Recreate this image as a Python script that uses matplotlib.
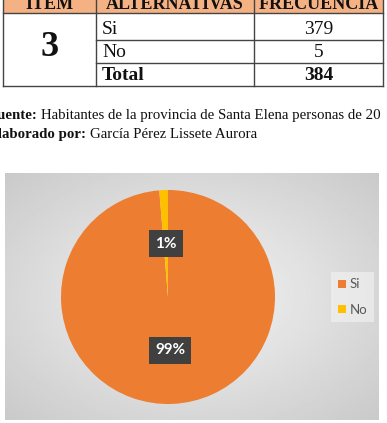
import numpy as np
import matplotlib.pyplot as plt
from matplotlib.patches import Rectangle

# table data
headers = ['ITEM', 'ALTERNATIVAS', 'FRECUENCIA']
item = '3'
alternativas = ['Si', 'No', 'Total']
frecuencia = ['379', '5', '384']

# pie data
labels = ['Si', 'No']
values = [379, 5]
colors = ['#ED7D31', '#FFC000']

W, H = 387, 423
fig = plt.figure(figsize=(W / 100, H / 100), dpi=100)
fig.patch.set_facecolor('white')

# page axes in pixel coordinates
page = fig.add_axes([0, 0, 1, 1])
page.set_xlim(0, W)
page.set_ylim(H, 0)
page.axis('off')

serif = 'Liberation Serif'
col_x = [3, 96, 254, 383]
row_y = [-10, 13, 40, 63, 86]

# header (top of the row is cut off by the page edge)
page.add_patch(Rectangle((col_x[0], row_y[0]), col_x[3] - col_x[0], row_y[1] - row_y[0],
                         facecolor='#F4B183', edgecolor='none'))
for i, h in enumerate(headers):
    page.text((col_x[i] + col_x[i + 1]) / 2, 9, h, family=serif, fontsize=13,
              fontweight='bold', ha='center', va='baseline', color='#111111')

lc = '#444444'
page.plot([col_x[0], col_x[3]], [row_y[1]] * 2, color=lc, lw=1)
page.plot([col_x[1], col_x[3]], [row_y[2]] * 2, color=lc, lw=1)
page.plot([col_x[1], col_x[3]], [row_y[3]] * 2, color=lc, lw=1)
page.plot([col_x[0], col_x[3]], [row_y[4]] * 2, color=lc, lw=1)
for x in col_x:
    page.plot([x, x], [row_y[0], row_y[4]], color=lc, lw=1)

page.text((col_x[0] + col_x[1]) / 2, 48, item, family=serif,
          fontsize=26, fontweight='bold', ha='center', va='center', color='#111111')
for r, (a, f) in enumerate(zip(alternativas, frecuencia)):
    yb = row_y[r + 2] - 6
    bold = 'bold' if a == 'Total' else 'normal'
    page.text(col_x[1] + 6, yb, a, family=serif, fontsize=14, fontweight=bold,
              ha='left', va='baseline', color='#111111')
    page.text((col_x[2] + col_x[3]) / 2, yb, f, family=serif, fontsize=14, fontweight=bold,
              ha='center', va='baseline', color='#111111')

# source captions (first letter cut off by the page edge)
t1 = page.text(-12, 119, 'Fuente: ', family=serif, fontsize=10.7, fontweight='bold',
               va='baseline', color='#111111')
page.annotate('Habitantes de la provincia de Santa Elena personas de 20', xycoords=t1,
              xy=(1, 0), va='bottom', family=serif, fontsize=10.7, color='#111111')
t2 = page.text(-12, 138, 'Elaborado por: ', family=serif, fontsize=10.7, fontweight='bold',
               va='baseline', color='#111111')
page.annotate('García Pérez Lissete Aurora', xycoords=t2, xy=(1, 0), va='bottom',
              family=serif, fontsize=10.7, color='#111111')

# chart background with radial gradient
bx0, bx1, by0, by1 = 5, 379, 173, 420
bg = fig.add_axes([bx0 / W, 1 - by1 / H, (bx1 - bx0) / W, (by1 - by0) / H])
gx, gy = np.meshgrid(np.linspace(-1, 1, 300), np.linspace(-1, 1, 200))
d = np.sqrt(gx ** 2 + gy ** 2) / np.sqrt(2)
shade = 0.96 - 0.17 * d
bg.imshow(shade, cmap='gray', vmin=0, vmax=1, aspect='auto', extent=[0, 1, 0, 1])
bg.axis('off')

# pie
cx, cy, rad = 168, 297, 107
ax = fig.add_axes([(cx - rad) / W, 1 - (cy + rad) / H, 2 * rad / W, 2 * rad / H])
wedges, texts, autotexts = ax.pie(
    values, colors=colors, startangle=90, counterclock=False,
    autopct='%1.0f%%', pctdistance=0.5, radius=1,
    wedgeprops=dict(linewidth=0),
    textprops=dict(family='Lato', fontsize=11, fontweight='bold', color='white'))
for t in autotexts:
    t.set_bbox(dict(boxstyle='square,pad=0.4', facecolor='#404040', edgecolor='none'))
ax.set_xlim(-1, 1)
ax.set_ylim(-1, 1)
ax.set_aspect('equal')
ax.axis('off')

# legend
leg = fig.legend(wedges, labels, loc='center left', bbox_to_anchor=(331 / W, 1 - 297 / H),
                 frameon=True, prop=dict(family='Lato', size=9.5), labelcolor='#595959',
                 handlelength=0.6, handleheight=0.6, handletextpad=0.3,
                 labelspacing=1.0, borderpad=0.5, borderaxespad=0, fancybox=False)
leg.get_frame().set_facecolor('#f4f4f4')
leg.get_frame().set_edgecolor('none')
leg.get_frame().set_alpha(0.6)

fig.savefig('out.png', dpi=100)
